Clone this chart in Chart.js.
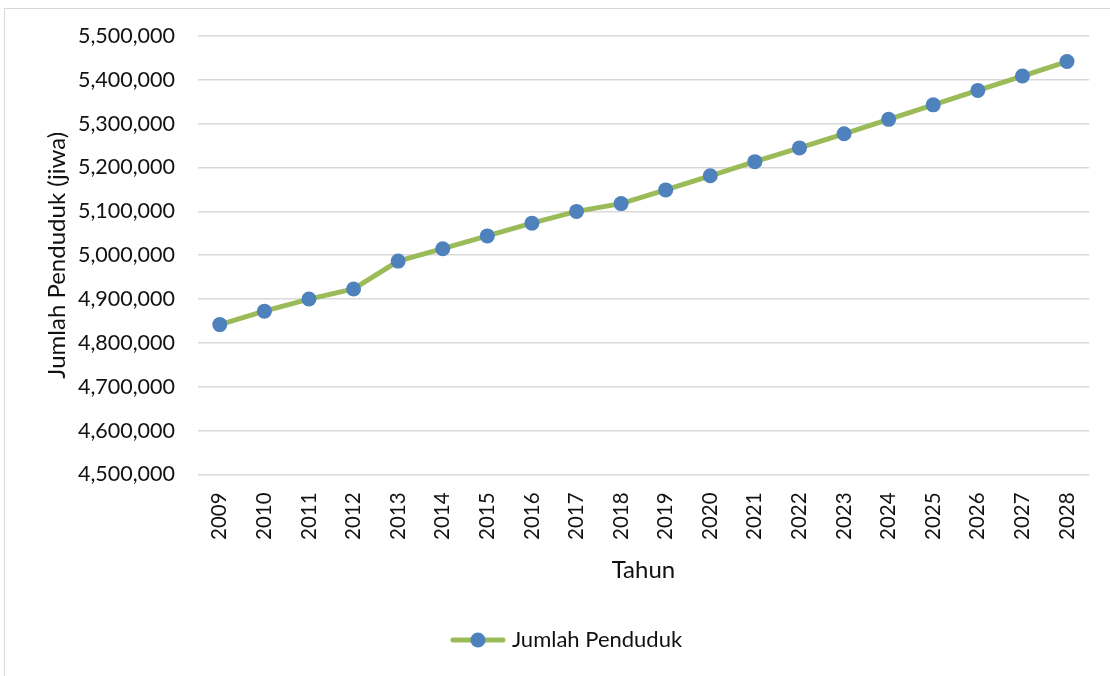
<!DOCTYPE html>
<html>
<head>
<meta charset="utf-8">
<script src="https://cdn.jsdelivr.net/npm/chart.js@4/dist/chart.umd.min.js"></script>
<style>
  html, body { margin: 0; padding: 0; background: #fff; overflow: hidden; }
  #wrap { position: relative; width: 1110px; height: 676px; overflow: hidden; }
  #frame { position: absolute; left: 4px; top: 8px; width: 1120px; height: 700px; border: 1.5px solid #d9d9d9; box-sizing: border-box; }
  canvas { position: absolute; left: 0; top: 0; }
</style>
</head>
<body>
<div id="wrap">
  <div id="frame"></div>
  <canvas id="chart" width="1110" height="676"></canvas>
</div>
<script>
// data
const years = ["2009", "2010", "2011", "2012", "2013", "2014", "2015", "2016", "2017", "2018",
               "2019", "2020", "2021", "2022", "2023", "2024", "2025", "2026", "2027", "2028"];
const jumlahPenduduk = [4841800, 4872400, 4900000, 4923000, 4986600, 5014900, 5044100, 5073200, 5100000, 5117700,
                        5149000, 5181200, 5213400, 5244800, 5277000, 5309900, 5343000, 5375900, 5408700, 5441800];
const seriesName = "Jumlah Penduduk";
const yMin = 4500000, yMax = 5500000, yStep = 100000;

const lineColor = "#9bbb59";
const dotColor = "#4f81bd";
const textColor = "#111";
const fontFamily = "Lato, 'Open Sans', sans-serif";

// legend marker: line with a dot in the middle
const marker = document.createElement("canvas");
marker.width = 56; marker.height = 18;
const mctx = marker.getContext("2d");
mctx.strokeStyle = lineColor; mctx.lineWidth = 5; mctx.lineCap = "round";
mctx.beginPath(); mctx.moveTo(3, 9); mctx.lineTo(53, 9); mctx.stroke();
mctx.fillStyle = dotColor;
mctx.beginPath(); mctx.arc(28, 9, 7.5, 0, Math.PI * 2); mctx.fill();

const ctx = document.getElementById("chart").getContext("2d");
const myChart = new Chart(ctx, {
  type: "line",
  data: {
    labels: years,
    datasets: [{
      label: seriesName,
      data: jumlahPenduduk,
      borderColor: lineColor,
      borderWidth: 5,
      backgroundColor: dotColor,
      pointBackgroundColor: dotColor,
      pointBorderColor: dotColor,
      pointRadius: 7.5,
      pointBorderWidth: 0,
      tension: 0,
      fill: false,
    }],
  },
  options: {
    responsive: false,
    animation: false,
    layout: { padding: { left: 43, right: 16, top: 36, bottom: 15 } },
    plugins: {
      tooltip: { enabled: false },
      legend: {
        position: "bottom",
        labels: {
          color: textColor,
          font: { family: fontFamily, size: 22 },
          usePointStyle: true,
          pointStyleWidth: 46,
          boxHeight: 18,
          padding: 10,
          generateLabels: (chart) => [{
            text: seriesName,
            pointStyle: marker,
            fillStyle: dotColor,
            strokeStyle: lineColor,
            lineWidth: 0,
            fontColor: textColor,
            datasetIndex: 0,
          }],
        },
      },
    },
    scales: {
      x: {
        offset: true,
        grid: { display: false, drawTicks: false },
        border: { display: false },
        ticks: {
          color: textColor,
          font: { family: fontFamily, size: 20.5 },
          maxRotation: 90, minRotation: 90,
          autoSkip: false,
          padding: 18,
        },
        title: {
          display: true,
          text: "Tahun",
          color: textColor,
          font: { family: fontFamily, size: 24, lineHeight: 1 },
          padding: { top: 0, bottom: 37 },
        },
      },
      y: {
        min: yMin, max: yMax,
        grid: { color: "#d9d9d9", lineWidth: 1.5, drawTicks: false },
        border: { display: false },
        afterFit: (scale) => { scale.width = 154.5; },
        ticks: {
          stepSize: yStep,
          color: textColor,
          font: { family: fontFamily, size: 21.5 },
          padding: 22.5,
          callback: (v) => v.toLocaleString("en-US"),
        },
        title: {
          display: true,
          text: "Jumlah Penduduk (jiwa)",
          color: textColor,
          font: { family: fontFamily, size: 24 },
          padding: { top: 0, bottom: 0 },
        },
      },
    },
  },
});
</script>
</body>
</html>
